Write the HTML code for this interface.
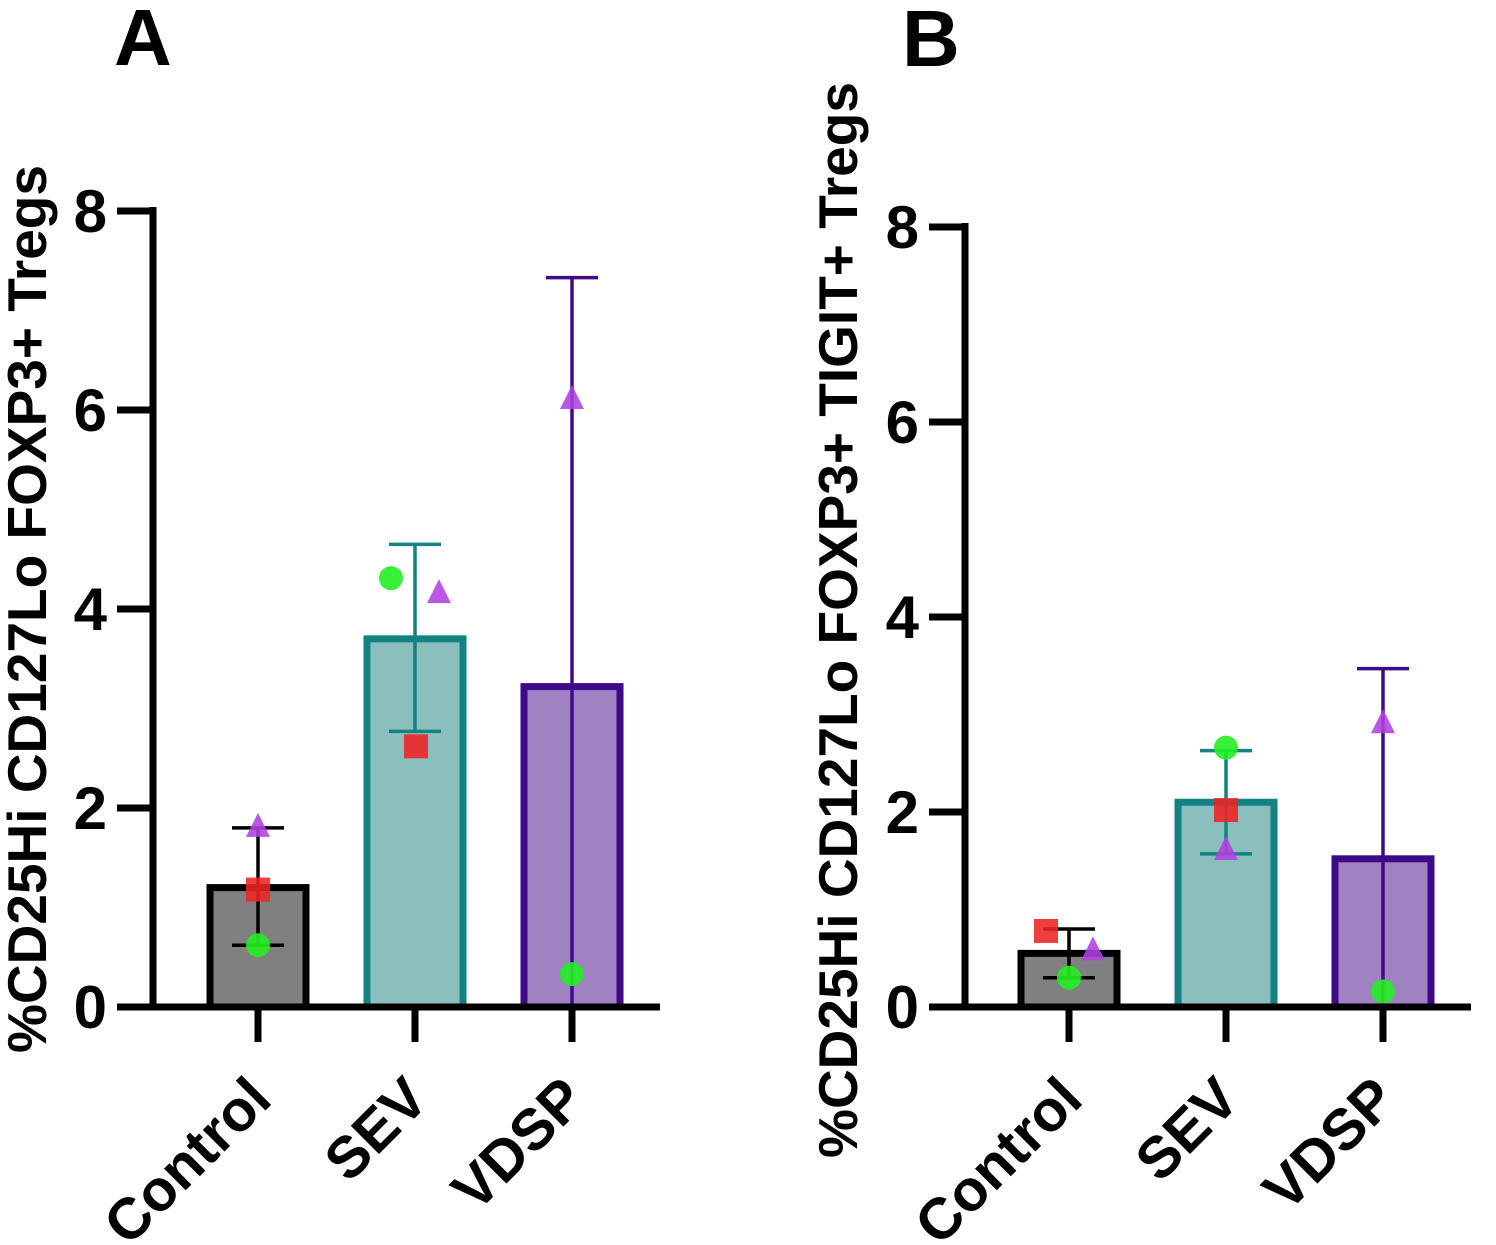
<!DOCTYPE html>
<html><head><meta charset="utf-8"><style>
body{margin:0;background:#fff;}
svg text{font-family:"Liberation Sans",Arial,sans-serif;font-weight:bold;fill:#000;}
</style></head><body>
<svg id="chart" width="1496" height="1240" viewBox="0 0 1496 1240" xmlns="http://www.w3.org/2000/svg">
<text x="114" y="65" font-size="80">A</text>
<text x="902" y="66" font-size="80">B</text>
<text transform="translate(46,609) rotate(-90)" text-anchor="middle" font-size="55">%CD25Hi CD127Lo FOXP3+ Tregs</text>
<text transform="translate(857,620) rotate(-90)" text-anchor="middle" font-size="55">%CD25Hi CD127Lo FOXP3+ TIGIT+ Tregs</text>
<g id="pa"></g><g id="pb"></g>
</svg>
<script>
const categories = ["Control","SEV","VDSP"];
const ticks = [0,2,4,6,8];
const meanA = [1.2,3.7,3.22];
const upperA = [1.8,4.65,7.33];
const lowerA = [0.62,2.77,0];
const circleA = [0.62,4.31,0.33];
const squareA = [1.18,2.62,null];
const triangleA = [1.8,4.15,6.1];
const meanB = [0.55,2.1,1.52];
const upperB = [0.8,2.63,3.47];
const lowerB = [0.3,1.57,0];
const circleB = [0.3,2.66,0.16];
const squareB = [0.78,2.02,null];
const triangleB = [0.57,1.6,2.9];

const fills=["#808080","#8bbfbd","#a081c2"];
const strokes=["#000000","#138381","#3f0a8a"];
const NS="http://www.w3.org/2000/svg";
function mk(parent,tag,attrs){const e=document.createElementNS(NS,tag);for(const k in attrs)e.setAttribute(k,attrs[k]);parent.appendChild(e);return e;}

function panel(gid,ax,y0,y8,firstX,mean,up,lo,circ,sq,tri,offsets){
  const g=document.getElementById(gid);
  const y=v=>y0-(y0-y8)*v/8;
  const x=i=>firstX+i*157;
  // bars
  mean.forEach((m,i)=>{
    const r=mk(g,'rect',{x:x(i)-48,y:y(m),width:96,height:y0-y(m),fill:fills[i],stroke:strokes[i],'stroke-width':7});
    
    
  });
  // error bars
  mean.forEach((m,i)=>{
    const l=mk(g,'line',{x1:x(i),x2:x(i),y1:y(up[i]),y2:y(lo[i]),stroke:strokes[i],'stroke-width':3.5});
    
    
    [up[i],lo[i]].forEach(v=>{
      const c=mk(g,'line',{x1:x(i)-26,x2:x(i)+26,y1:y(v),y2:y(v),stroke:strokes[i],'stroke-width':3.5});
      
      
    });
  });
  // axes
  const ya=mk(g,'line',{x1:ax,x2:ax,y1:y8-4,y2:y0+3,stroke:'#000','stroke-width':7});
  
  
  const xa=mk(g,'line',{x1:ax-3,x2:x(2)+88,y1:y0,y2:y0,stroke:'#000','stroke-width':7});
  
  
  ticks.forEach(t=>{
    const tl=mk(g,'line',{x1:ax-36,x2:ax,y1:y(t),y2:y(t),stroke:'#000','stroke-width':7});
    
    
    const tx=mk(g,'text',{x:ax-46,y:y(t)+21,'text-anchor':'end','font-size':60});
    tx.textContent=t;
    
    
  });
  categories.forEach((c,i)=>{
    const tl=mk(g,'line',{x1:x(i),x2:x(i),y1:y0,y2:y0+35,stroke:'#000','stroke-width':7});
    
    
    const tx=mk(g,'text',{transform:`translate(${x(i)+16},${y0+95}) rotate(-45)`,'text-anchor':'end','font-size':58});
    tx.textContent=c;
    
    
  });
  // points
  circ.forEach((v,i)=>{ if(v==null)return;
    const e=mk(g,'circle',{cx:x(i)+offsets.c[i],cy:y(v),r:12,fill:'#22ee22','fill-opacity':0.9});
    
    
  });
  sq.forEach((v,i)=>{ if(v==null)return;
    const cx=x(i)+offsets.s[i];
    const e=mk(g,'rect',{x:cx-12,y:y(v)-12,width:24,height:24,fill:'#ee2222','fill-opacity':0.88});
    
    
  });
  tri.forEach((v,i)=>{ if(v==null)return;
    const cx=x(i)+offsets.t[i], cy=y(v);
    const e=mk(g,'polygon',{points:`${cx},${cy-15} ${cx-12},${cy+9} ${cx+12},${cy+9}`,fill:'#b040e0','fill-opacity':0.88});
    
    
  });
}
panel('pa',153,1007,211,258,meanA,upperA,lowerA,circleA,squareA,triangleA,{c:[0,-24,0],s:[0,1,0],t:[0,24,0]});
panel('pb',965,1007,227,1069,meanB,upperB,lowerB,circleB,squareB,triangleB,{c:[0,0,0],s:[-23,0,0],t:[24,0,0]});
</script>
</body></html>
